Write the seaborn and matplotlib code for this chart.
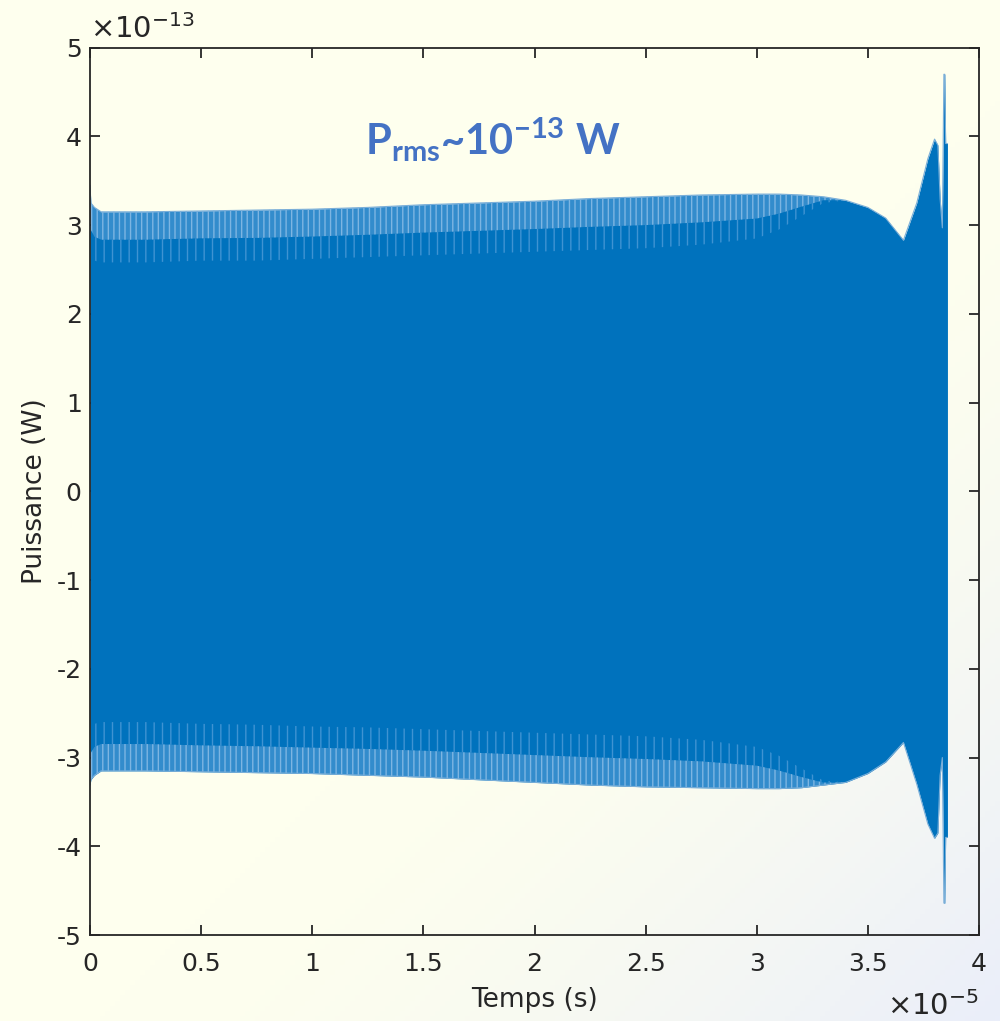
"""
Puissance vs temps : enveloppe du signal (style MATLAB)
"""

import numpy as np
import pandas as pd
import matplotlib
matplotlib.use("Agg")
import matplotlib.pyplot as plt
import seaborn as sns
from matplotlib.ticker import FuncFormatter

# Time knots (x 1e-5 s) and envelope values (x 1e-13 W)
time_knots = [0.0, 0.004, 0.02, 0.05, 0.25, 0.5, 0.75, 1.0, 1.25, 1.5, 1.75,
              2.0, 2.25, 2.5, 2.75, 3.0, 3.1, 3.2, 3.3, 3.4, 3.5, 3.58, 3.66,
              3.72, 3.77, 3.80, 3.815, 3.825, 3.835, 3.842, 3.846, 3.85, 3.858]
upper_outer = [3.45, 3.25, 3.2, 3.15, 3.15, 3.16, 3.17, 3.18, 3.2, 3.23, 3.25,
               3.27, 3.3, 3.32, 3.34, 3.35, 3.35, 3.34, 3.32, 3.28, 3.2, 3.08, 2.83,
               3.25, 3.75, 3.97, 3.9, 3.3, 2.97, 4.7, 4.7, 3.92, 3.92]
upper_inner = [3.0, 2.7, 2.6, 2.58, 2.58, 2.6, 2.6, 2.62, 2.64, 2.66, 2.68,
               2.7, 2.72, 2.74, 2.78, 2.85, 2.95, 3.1, 3.25, 3.28, 3.2, 3.08, 2.83,
               3.25, 3.75, 3.97, 3.9, 3.3, 2.97, 4.7, 4.7, 3.92, 3.92]
lower_outer = [-3.31, -3.25, -3.2, -3.15, -3.15, -3.16, -3.17, -3.18, -3.2, -3.22, -3.25,
               -3.28, -3.31, -3.33, -3.34, -3.35, -3.35, -3.34, -3.31, -3.28, -3.18, -3.05, -2.83,
               -3.3, -3.75, -3.91, -3.85, -3.2, -3.0, -4.64, -4.64, -3.9, -3.9]
lower_inner = [-3.0, -2.7, -2.62, -2.6, -2.6, -2.62, -2.63, -2.65, -2.66, -2.68, -2.7,
               -2.72, -2.74, -2.76, -2.8, -2.88, -2.98, -3.12, -3.26, -3.28, -3.18, -3.05, -2.83,
               -3.3, -3.75, -3.91, -3.85, -3.2, -3.0, -4.64, -4.64, -3.9, -3.9]

x_ticks = [0, 0.5, 1, 1.5, 2, 2.5, 3, 3.5, 4]
y_ticks = [-5, -4, -3, -2, -1, 0, 1, 2, 3, 4, 5]

env = pd.DataFrame({"t": time_knots, "up": upper_outer, "up_in": upper_inner,
                    "lo": lower_outer, "lo_in": lower_inner})

sns.set_theme(style="ticks")
plt.rcParams["font.family"] = ["DejaVu Sans"]
plt.rcParams["mathtext.fontset"] = "custom"
plt.rcParams["mathtext.rm"] = "DejaVu Sans"
plt.rcParams["mathtext.bf"] = "Lato:bold"
plt.rcParams["hatch.linewidth"] = 1.0

fig = plt.figure(figsize=(10, 10.21), dpi=100)

# Background gradient (cream -> light blue in bottom right corner)
bg = fig.add_axes([0, 0, 1, 1], zorder=-10)
gx, gy = np.meshgrid(np.linspace(0, 1, 200), np.linspace(0, 1, 200))
s = (gx + gy) / 2
w = np.clip((s - 0.55) / 0.45, 0, 1) ** 1.6
c0 = np.array([254, 255, 238]) / 255
c1 = np.array([234, 238, 250]) / 255
img = c0[None, None, :] * (1 - w[..., None]) + c1[None, None, :] * w[..., None]
bg.imshow(img, aspect="auto", extent=[0, 1, 0, 1])
bg.axis("off")

ax = fig.add_axes([0.09, 0.0842, 0.889, 0.8691])
ax.set_facecolor("none")

blue = "#0072BD"
t = env["t"]
up_mid = env["up_in"] + 0.45 * (env["up"] - env["up_in"])
lo_mid = env["lo_in"] + 0.45 * (env["lo"] - env["lo_in"])

# whole signal band in solid blue
ax.fill_between(t, env["lo"], env["up"], color=blue, lw=0)
# striated fringe on top: light stripes, denser/lighter towards the edge
for lo_b, hi_b, fc, hc, h in [(env["up_in"], up_mid, (1, 1, 1, 0.0), "#3f93d2", "||"),
                               (up_mid, env["up"], (0.45, 0.68, 0.88, 0.45), "#7db5e2", "|||"),
                               (lo_mid, env["lo_in"], (1, 1, 1, 0.0), "#3f93d2", "||"),
                               (env["lo"], lo_mid, (0.45, 0.68, 0.88, 0.45), "#7db5e2", "|||")]:
    ax.fill_between(t, lo_b, hi_b, facecolor=fc, edgecolor=hc, hatch=h, lw=0)
sns.lineplot(data=env, x="t", y="up", ax=ax, color="#7aaed8", lw=0.8, sort=False)
sns.lineplot(data=env, x="t", y="lo", ax=ax, color="#7aaed8", lw=0.8, sort=False)

ax.set_xlim(0, 4)
ax.set_ylim(-5, 5)
ax.set_xticks(x_ticks)
ax.set_yticks(y_ticks)
ax.xaxis.set_major_formatter(FuncFormatter(lambda v, p: f"{v:g}"))
ax.yaxis.set_major_formatter(FuncFormatter(lambda v, p: f"{v:g}"))
ax.tick_params(direction="in", length=7, width=1.3, labelsize=18, colors="#262626",
               top=True, right=True)
ax.tick_params(axis="x", pad=12)
ax.tick_params(axis="y", pad=6)
for sp in ax.spines.values():
    sp.set_visible(True)
    sp.set_color("#262626")
    sp.set_linewidth(1.3)

ax.set_xlabel("Temps (s)", fontsize=19, color="#262626", labelpad=8)
ax.set_ylabel("Puissance (W)", fontsize=19, color="#262626", labelpad=6)

ax.text(0.0, 1.004, r"×10$^{-13}$", transform=ax.transAxes, ha="left", va="bottom",
        fontsize=21, color="#262626")
ax.text(1.0, -0.063, r"×10$^{-5}$", transform=ax.transAxes, ha="right", va="top",
        fontsize=21, color="#262626")

ax.text(0.453, 3.96, r"$\mathbf{P_{rms}}$~10$^{\mathbf{-13}}$ W", ha="center", va="center",
        fontsize=30, fontweight="bold", family=["Lato", "DejaVu Sans"], color="#4472C4",
        transform=ax.get_yaxis_transform())

fig.savefig("out.png", dpi=100)
